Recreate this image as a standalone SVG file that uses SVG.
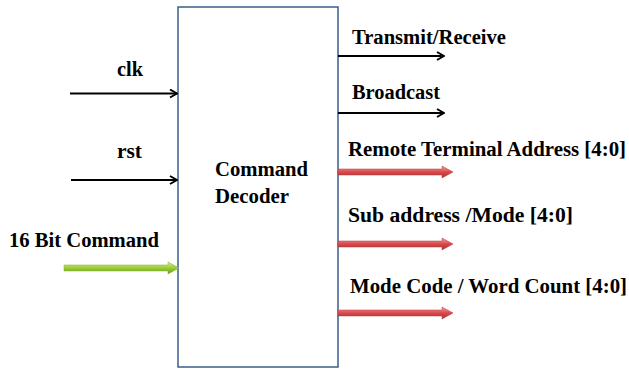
<svg xmlns="http://www.w3.org/2000/svg" width="629" height="370" viewBox="0 0 629 370">
  <style>
    text { font-family: "Liberation Serif", "Times New Roman", serif; font-weight: 700; font-size: 20px; fill: #000; }
    .wire { stroke: #000; stroke-width: 2; fill: none; }
  </style>
  <defs>
    <marker id="open" viewBox="0 0 10 10" refX="9" refY="5" markerWidth="10" markerHeight="10" markerUnits="userSpaceOnUse" orient="auto">
      <path d="M2,1 L9,5 L2,9" fill="none" stroke="#000" stroke-width="2"/>
    </marker>
    <linearGradient id="redBus" x1="0" y1="0" x2="0" y2="1">
      <stop offset="0" stop-color="#f4a0a0"/>
      <stop offset="0.5" stop-color="#d9484a"/>
      <stop offset="1" stop-color="#a83234"/>
    </linearGradient>
    <linearGradient id="greenBus" x1="0" y1="0" x2="0" y2="1">
      <stop offset="0" stop-color="#d8f0a0"/>
      <stop offset="0.5" stop-color="#9acd32"/>
      <stop offset="1" stop-color="#6e9a22"/>
    </linearGradient>
    <path id="bus" d="M0,-3 L104,-3 L104,-6 L115,0 L104,6 L104,3 L0,3 Z"/>
  </defs>

  <g id="decoder">
    <rect x="178" y="7" width="160" height="360" fill="#fff" stroke="#385d8a" stroke-width="1.5"/>
    <text x="215" y="176" textLength="93" lengthAdjust="spacingAndGlyphs">Command</text>
    <text x="215" y="203" textLength="74" lengthAdjust="spacingAndGlyphs">Decoder</text>
  </g>

  <g id="connectors">
    <line class="wire" x1="70" y1="93.5" x2="177" y2="93.5" marker-end="url(#open)"/>
    <line class="wire" x1="71" y1="180" x2="177" y2="180" marker-end="url(#open)"/>
    <use href="#bus" x="64" y="268" fill="url(#greenBus)" stroke="#7ea83a" stroke-width="0.5"/>
    <line class="wire" x1="338" y1="56" x2="444" y2="56" marker-end="url(#open)"/>
    <line class="wire" x1="338" y1="113" x2="444" y2="113" marker-end="url(#open)"/>
    <use href="#bus" x="338" y="172" fill="url(#redBus)" stroke="#b03a3c" stroke-width="0.5"/>
    <use href="#bus" x="338" y="244" fill="url(#redBus)" stroke="#b03a3c" stroke-width="0.5"/>
    <use href="#bus" x="338" y="313" fill="url(#redBus)" stroke="#b03a3c" stroke-width="0.5"/>
  </g>

  <g id="labels">
    <text x="117" y="76" textLength="26" lengthAdjust="spacingAndGlyphs">clk</text>
    <text x="117" y="158" textLength="25" lengthAdjust="spacingAndGlyphs">rst</text>
    <text x="9" y="247" textLength="150" lengthAdjust="spacingAndGlyphs">16 Bit Command</text>
    <text x="352" y="44" textLength="154" lengthAdjust="spacingAndGlyphs">Transmit/Receive</text>
    <text x="352" y="99" textLength="88" lengthAdjust="spacingAndGlyphs">Broadcast</text>
    <text x="348" y="156" textLength="278" lengthAdjust="spacingAndGlyphs">Remote Terminal Address [4:0]</text>
    <text x="348" y="222" textLength="225" lengthAdjust="spacingAndGlyphs">Sub address /Mode [4:0]</text>
    <text x="350" y="293" textLength="277" lengthAdjust="spacingAndGlyphs">Mode Code / Word Count  [4:0]</text>
  </g>
</svg>
